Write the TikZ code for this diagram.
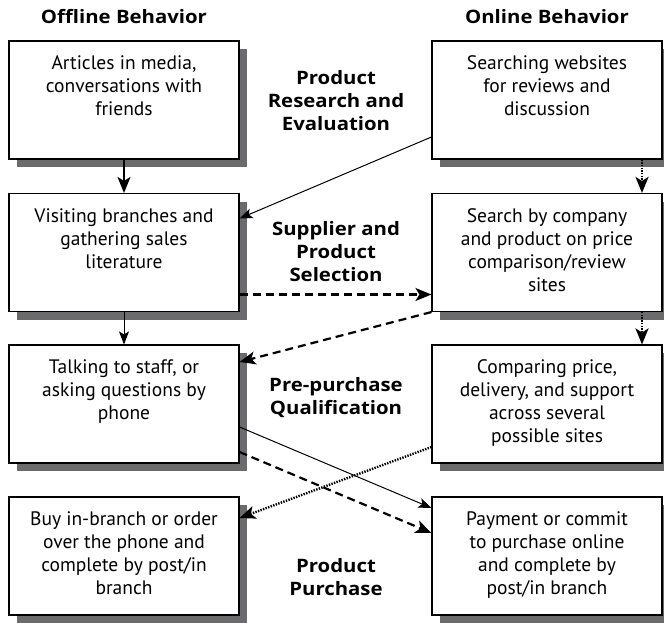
\documentclass[tikz,border=0pt]{standalone}
\usepackage{fontspec}
\setmainfont{PT Sans}
\newfontfamily\headfont[FakeStretch=1.1]{Open Sans}
\usepackage{tikz}
\usetikzlibrary{arrows.meta,positioning}
\definecolor{shadowgray}{HTML}{6B6B6D}
\newcommand{\cardtext}[1]{\parbox[c][88pt][t]{224pt}{\centering #1}}

\begin{document}
\begin{tikzpicture}[x=1pt, y=-1pt,
    every node/.style={font=\fontsize{19.5}{23}\selectfont},
    card/.style={draw=black, line width=1.1pt, fill=white, inner sep=0pt,
      minimum width=230pt, minimum height=118pt},
    head/.style={font=\fontsize{18.5}{23}\selectfont\headfont\bfseries},
    stage/.style={font=\fontsize{18.5}{23}\selectfont\headfont\bfseries, align=center},
    thinline/.style={line width=1pt, -{Stealth[length=13pt,width=10pt,inset=3pt]}},
    thickline/.style={line width=2pt, -{Stealth[length=16pt,width=13pt,inset=4pt]}},
    dashline/.style={line width=2.2pt, dash pattern=on 8pt off 5pt, -{Stealth[length=16pt,width=13pt,inset=4pt]}},
    dotline/.style={line width=2.4pt, dash pattern=on 1.4pt off 1.3pt, -{Stealth[length=16pt,width=13pt,inset=4pt]}}]
    \useasboundingbox (0,0) rectangle (664,623);
    % column heads
    \node[head] (offhead) at (124,17) {Offline Behavior};
    \node[head] (onhead) at (547,17) {Online Behavior};
    % boxes with their shadows
    \foreach \n/\x/\y/\t in {
      off1/124/100/{Articles in media,\\conversations with\\friends},
      off2/124/252.5/{Visiting branches and\\gathering sales\\literature},
      off3/124/404/{Talking to staff, or\\asking questions by\\phone},
      off4/124/556/{Buy in-branch or order\\over the phone and\\complete by post/in\\branch},
      on1/547/100/{Searching websites\\for reviews and\\discussion},
      on2/547/252.5/{Search by company\\and product on price\\comparison/review\\sites},
      on3/547/404/{Comparing price,\\delivery, and support\\across several\\possible sites},
      on4/547/556/{Payment or commit\\to purchase online\\and complete by\\post/in branch}}{
      \fill[shadowgray] (\x-107,\y-51) rectangle (\x+123,\y+67);
      \node[card] (\n) at (\x,\y) {\cardtext{\t}};
    }
    % stages
    \node[stage] (research) at (336,101) {Product\\Research and\\Evaluation};
    \node[stage] (selection) at (336,252) {Supplier and\\Product\\Selection};
    \node[stage] (qualify) at (336,398) {Pre-purchase\\Qualification};
    \node[stage] (purchase) at (336,577) {Product\\Purchase};
    % connectors
    \draw[thickline] (off1.south) -- (off2.north);
    \draw[thinline] (off2.south) -- (off3.north);
    \draw[thinline] ([yshift=-37pt]on1.west) -- ([yshift=34pt]off2.east);
    \draw[dashline] ([yshift=-42pt]off2.east) -- ([yshift=-42pt]on2.west);
    \draw[dashline] (on2.south west) -- ([yshift=42pt]off3.east);
    \draw[dotline] ([xshift=95pt]on1.south) -- ([xshift=95pt]on2.north);
    \draw[dotline] ([xshift=95pt]on2.south) -- ([xshift=95pt]on3.north);
    \draw[thinline] ([yshift=-23pt]off3.east) -- ([yshift=48pt]on4.west);
    \draw[dashline] ([yshift=-48pt]off3.east) -- ([yshift=23pt]on4.west);
    \draw[dotline] ([yshift=-43pt]on3.west) -- ([yshift=38pt]off4.east);
  \end{tikzpicture}
\end{document}
